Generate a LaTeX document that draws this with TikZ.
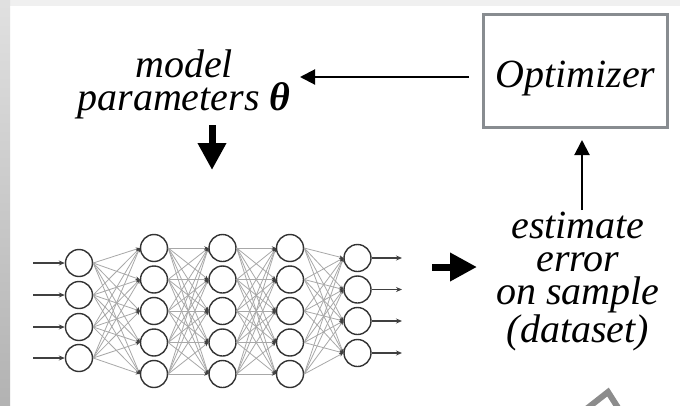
\documentclass[tikz,border=0pt]{standalone}
\usepackage{fontspec}
\setmainfont{Liberation Serif}
\usetikzlibrary{arrows.meta,calc}
\definecolor{framegray}{HTML}{888C90}
\definecolor{linkgray}{HTML}{A8A8A8}
\begin{document}
\begin{tikzpicture}[x=1pt,y=-1pt,
  neuron/.style={circle,draw=black!80,line width=1.4pt,minimum size=27pt,inner sep=0pt,fill=white},
  link/.style={draw=linkgray,line width=0.8pt,-{Stealth[length=4pt,width=3.5pt,black!75]}},
  ioarrow/.style={draw=black!75,line width=1.3pt,-{Stealth[length=6pt,width=5pt]}},
  label/.style={font=\fontsize{40}{33}\selectfont\itshape,align=center,inner sep=0pt},
  thinarrow/.style={line width=2pt,-{Triangle[length=15pt,width=15pt]}},
  bigarrow/.style={line width=7pt,-{Triangle[length=27pt,width=27pt]}},
  optbox/.style={draw=framegray,line width=3pt,minimum width=184pt,minimum height=113pt,
    font=\fontsize{40}{40}\selectfont\itshape,text height=32pt,text depth=0pt,inner sep=0pt},
]
\useasboundingbox (0,0) rectangle (680,405);
\clip (0,0) rectangle (680,405);

% page edge shading
\fill[white] (0,0) rectangle (680,405);
\fill[black!6] (0,0) rectangle (680,6);
\shade[top color=black!12,bottom color=black!30] (0,0) rectangle (10,405);

% network layers
\foreach \y [count=\i] in {263,295,327,358}
  \node[neuron] (n-1-\i) at (79,\y) {};
\foreach \x [count=\l from 2] in {154,222.5,290}
  \foreach \y [count=\i] in {248,279.5,311,342.5,374}
    \node[neuron] (n-\l-\i) at (\x,\y) {};
\foreach \y [count=\i] in {258,289.5,321,353}
  \node[neuron] (n-5-\i) at (357.5,\y) {};

% fully connected links
\foreach \i in {1,...,4}
  \foreach \j in {1,...,5}
    \draw[link] (n-1-\i.east) -- (n-2-\j.west);
\foreach \a/\b in {2/3,3/4}
  \foreach \i in {1,...,5}
    \foreach \j in {1,...,5}
      \draw[link] (n-\a-\i.east) -- (n-\b-\j.west);
\foreach \i in {1,...,5}
  \foreach \j in {1,...,4}
    \draw[link] (n-4-\i.east) -- (n-5-\j.west);

% inputs and outputs
\foreach \y [count=\i] in {263,295,327,358} {
  \coordinate (in\i) at (33,\y);
  \draw[ioarrow] (in\i) -- (n-1-\i.west);
}
\foreach \y [count=\i] in {258,289.5,321,353} {
  \coordinate (out\i) at (402,\y);
  \draw[ioarrow] (n-5-\i.east) -- (out\i);
}

% labels and optimizer (base anchor sits on the last line)
\node[optbox] (opt) at (575.5,71) {Optimizer};
\node[label,anchor=base] (params) at (184,110) {model\\parameters {\bfseries θ}};
\node[label,anchor=base] (err) at (578,342) {estimate\\error\\on sample\\(dataset)};

% flow arrows
\coordinate (feedin) at (300,77);
\draw[thinarrow] ([xshift=-13pt,yshift=-6pt]opt.west) -- (feedin);
\coordinate (downtop) at (212,125);
\coordinate (downtip) at (212,170);
\draw[bigarrow] (downtop) -- (downtip);
\coordinate (righttail) at (432,267);
\coordinate (righttip) at (477,267);
\draw[bigarrow] (righttail) -- (righttip);
\coordinate (uptail) at (582,210);
\coordinate (uptip) at (582,140);
\draw[thinarrow] (uptail) -- (uptip);

% corner of a tilted frame at the bottom edge
\draw[black!45,line width=6pt,miter limit=10] (580,414) -- (608,392) -- (622,414);
\end{tikzpicture}
\end{document}
